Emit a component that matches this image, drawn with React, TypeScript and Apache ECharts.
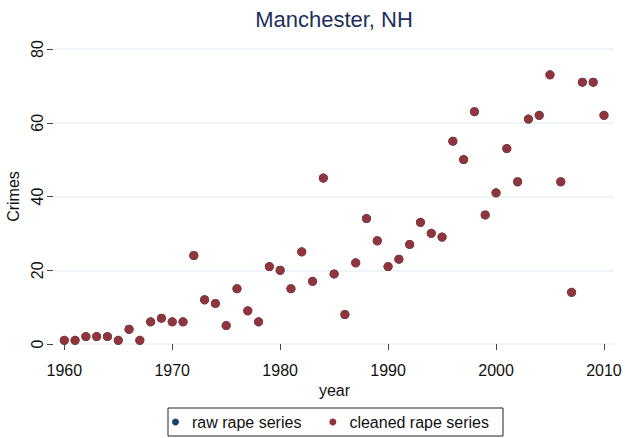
import React, { useEffect, useRef } from "react";
import * as echarts from "echarts";

const years = [
  1960, 1961, 1962, 1963, 1964, 1965, 1966, 1967, 1968, 1969,
  1970, 1971, 1972, 1973, 1974, 1975, 1976, 1977, 1978, 1979,
  1980, 1981, 1982, 1983, 1984, 1985, 1986, 1987, 1988, 1989,
  1990, 1991, 1992, 1993, 1994, 1995, 1996, 1997, 1998, 1999,
  2000, 2001, 2002, 2003, 2004, 2005, 2006, 2007, 2008, 2009, 2010,
];
const rawRape = [
  1, 1, 2, 2, 2, 1, 4, 1, 6, 7,
  6, 6, 24, 12, 11, 5, 15, 9, 6, 21,
  20, 15, 25, 17, 45, 19, 8, 22, 34, 28,
  21, 23, 27, 33, 30, 29, 55, 50, 63, 35,
  41, 53, 44, 61, 62, 73, 44, 14, 71, 71, 62,
];
const cleanedRape = [
  1, 1, 2, 2, 2, 1, 4, 1, 6, 7,
  6, 6, 24, 12, 11, 5, 15, 9, 6, 21,
  20, 15, 25, 17, 45, 19, 8, 22, 34, 28,
  21, 23, 27, 33, 30, 29, 55, 50, 63, 35,
  41, 53, 44, 61, 62, 73, 44, 14, 71, 71, 62,
];
const xTicks = [1960, 1970, 1980, 1990, 2000, 2010];

const FONT = "Liberation Sans, Arial, sans-serif";

export default function App() {
  const ref = useRef<HTMLDivElement>(null);
  useEffect(() => {
    if (!ref.current) return;
    const chart = echarts.init(ref.current, null, { renderer: "svg" });
    chart.setOption({
      animation: false,
      backgroundColor: "#ffffff",
      textStyle: { fontFamily: FONT },
      title: {
        text: "Manchester, NH",
        left: 334,
        textAlign: "center",
        top: 8,
        padding: 0,
        textStyle: { color: "#1e2f5a", fontSize: 22, fontWeight: "normal", fontFamily: FONT },
      },
      legend: {
        left: 168,
        top: 408,
        orient: "horizontal",
        borderColor: "#222222",
        borderWidth: 1,
        padding: [6, 14, 6, 4],
        itemGap: 28,
        itemWidth: 7,
        itemHeight: 7,
        icon: "circle",
        textStyle: { fontSize: 16, color: "#111", fontFamily: FONT, padding: [0, 0, 0, 8] },
        data: ["raw rape series", "cleaned rape series"],
      },
      grid: { left: 55, right: 11, top: 49, bottom: 94, containLabel: false, outerBoundsMode: "none" },
      xAxis: {
        type: "value",
        min: 1959.14,
        max: 2010.93,
        offset: 11,
        axisLine: { show: false },
        axisTick: {
          show: true,
          length: 6,
          lineStyle: { color: "#444" },
          customValues: xTicks,
        },
        axisLabel: {
          customValues: xTicks,
          fontSize: 16,
          color: "#111",
          margin: 7,
          fontFamily: FONT,
          formatter: (v: number) => String(Math.round(v)),
        },
        splitLine: { show: false },
        name: "year",
        nameLocation: "middle",
        nameGap: 23,
        nameTextStyle: { fontSize: 16, color: "#111", fontFamily: FONT },
      },
      yAxis: {
        type: "value",
        min: 0,
        max: 80,
        interval: 20,
        offset: 2,
        axisLine: { show: false },
        axisTick: { show: true, length: 6, lineStyle: { color: "#444" } },
        axisLabel: {
          rotate: 90,
          fontSize: 16,
          color: "#111",
          margin: 8,
          fontFamily: FONT,
        },
        splitLine: { show: true, lineStyle: { color: "#eaf2f3", width: 1.5 } },
        name: "Crimes",
        nameLocation: "middle",
        nameGap: 24,
        nameTextStyle: { fontSize: 16, color: "#111", fontFamily: FONT },
      },
      series: [
        {
          name: "raw rape series",
          type: "scatter",
          symbol: "circle",
          symbolSize: 9,
          itemStyle: { color: "#1a476f", opacity: 1 },
          data: years.map((y, i) => [y, rawRape[i]]),
        },
        {
          name: "cleaned rape series",
          type: "scatter",
          symbol: "circle",
          symbolSize: 9,
          itemStyle: { color: "#90353b", opacity: 1 },
          data: years.map((y, i) => [y, cleanedRape[i]]),
        },
      ],
    });
    return () => chart.dispose();
  }, []);
  return (
    <div
      ref={ref}
      style={{ position: "absolute", left: 0, top: 0, width: 625, height: 438 }}
    />
  );
}
